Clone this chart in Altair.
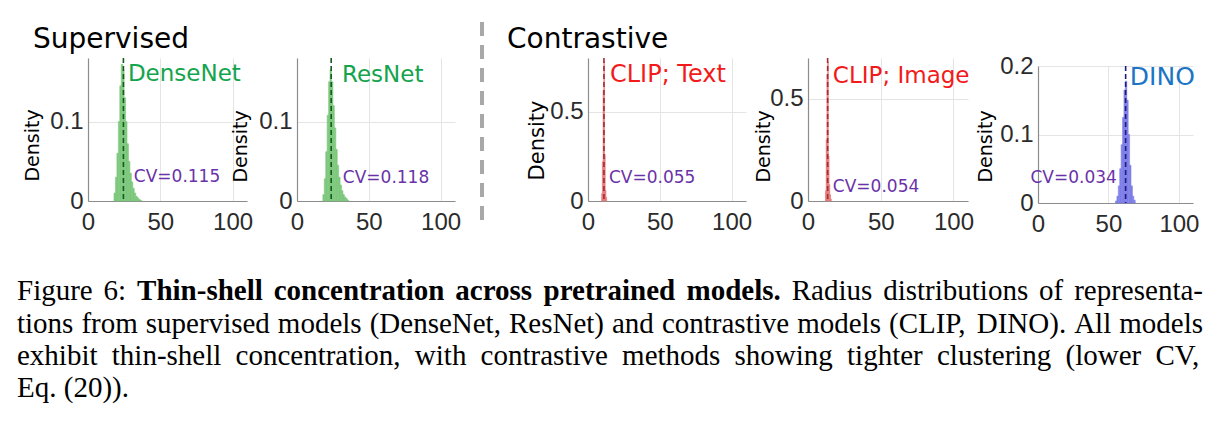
import altair as alt
import pandas as pd

# ---- data: radius histograms of each pretrained model ----
models = ["DenseNet", "ResNet", "CLIP; Text", "CLIP; Image", "DINO"]
cv_values = ["0.115", "0.118", "0.055", "0.054", "0.034"]
mean_radius = [24.5, 23.8, 11.1, 13.5, 62.2]
bin_width = [1.0, 1.0, 0.5, 0.5, 1.0]

densenet_bins = [18, 19, 20, 21, 22, 23, 24, 25, 26, 27, 28, 29, 30, 31, 32, 33, 34, 35, 36]
densenet_density = [0.010, 0.030, 0.060, 0.100, 0.145, 0.172, 0.165, 0.130, 0.100, 0.072,
                    0.050, 0.035, 0.024, 0.016, 0.010, 0.006, 0.004, 0.002, 0.001]

resnet_bins = [18, 19, 20, 21, 22, 23, 24, 25, 26, 27, 28, 29, 30, 31, 32, 33, 34, 35]
resnet_density = [0.008, 0.028, 0.062, 0.108, 0.150, 0.165, 0.150, 0.120, 0.092, 0.065,
                  0.045, 0.030, 0.020, 0.013, 0.008, 0.005, 0.003, 0.001]

clip_text_bins = [9.5, 10.0, 10.5, 11.0, 11.5, 12.0, 12.5]
clip_text_density = [0.04, 0.22, 0.62, 0.78, 0.26, 0.06, 0.02]

clip_image_bins = [12.0, 12.5, 13.0, 13.5, 14.0, 14.5, 15.0, 15.5]
clip_image_density = [0.05, 0.30, 0.62, 0.68, 0.22, 0.08, 0.03, 0.01]

dino_bins = [55, 56, 57, 58, 59, 60, 61, 62, 63, 64, 65, 66, 67, 68]
dino_density = [0.003, 0.010, 0.025, 0.050, 0.085, 0.125, 0.165, 0.178, 0.150, 0.100,
                0.055, 0.025, 0.010, 0.004]

all_bins = [densenet_bins, resnet_bins, clip_text_bins, clip_image_bins, dino_bins]
all_density = [densenet_density, resnet_density, clip_text_density, clip_image_density, dino_density]

# axis ranges and ticks
x_domain = [0, 110]
x_ticks = [0, 50, 100]
y_max = [0.18, 0.18, 0.8, 0.7, 0.2]
y_ticks = [[0, 0.1], [0, 0.1], [0, 0.5], [0, 0.5], [0, 0.1, 0.2]]

# label anchors in data units (radius)
name_x = [27.6, 31.3, 15.3, 17.1, 65.2]
cv_x = [31.7, 31.9, 14.6, 17.1, 56.0]

# caption: one entry per line, words tagged bold (1) or regular (0)
caption_line1 = [("Figure", 0), ("6:", 0), ("Thin-shell", 1), ("concentration", 1), ("across", 1),
                 ("pretrained", 1), ("models.", 1), ("Radius", 0), ("distributions", 0), ("of", 0),
                 ("representa-", 0)]
caption_line2 = [(w, 0) for w in "tions from supervised models (DenseNet, ResNet) and contrastive "
                 "models (CLIP, DINO). All models".split()]
caption_line3 = [(w, 0) for w in "exhibit thin-shell concentration, with contrastive methods "
                 "showing tighter clustering (lower CV,".split()]
caption_line4 = [(w, 0) for w in "Eq. (20)).".split()]
caption_lines = [caption_line1, caption_line2, caption_line3, caption_line4]
caption_justified = [True, True, True, False]

# ---- layout & style ----
panel_w = [159, 158, 158, 160, 155]
panel_h = [143, 143, 143, 143, 137]
gaps = [50, 133, 62, 70]
fill_color = ["#79c679", "#79c679", "#e57b7b", "#e57b7b", "#7b7be8"]
line_color = ["#145a1e", "#145a1e", "#a52a35", "#a52a35", "#1c1c80"]
name_color = ["#14a44d", "#14a44d", "#f21a1a", "#f21a1a", "#1b75c4"]
name_size = [23, 23, 24, 23, 25]
name_y = [16, 17, 17, 18, 11]
cv_y = [119, 120, 120, 129, 112]
cv_align = ["left", "left", "left", "left", "right"]
cv_color = "#6a32a8"
title_x = [-56, -57, -51, -45, -53]
title_y = [87, 88, 82, 88, 80]
title_size = [19, 19, 21, 19, 19]
hand_font = "DejaVu Sans"

# caption typesetting (Times metrics, per 1000 em), placed relative to the first plot
CAP_SIZE = 29
CAP_LEFT, CAP_RIGHT = -71, 1115
CAP_BASELINES = [242, 275, 307, 339]
ROMAN = {" ": 250, "(": 333, ")": 333, ",": 250, "-": 333, ".": 250, ":": 278, ";": 278,
         "0": 500, "2": 500, "6": 500,
         "A": 722, "C": 667, "D": 722, "E": 611, "F": 556, "I": 333, "L": 611, "N": 722,
         "O": 722, "P": 556, "R": 667, "T": 611, "V": 722,
         "a": 444, "b": 500, "c": 444, "d": 500, "e": 444, "f": 333, "g": 500, "h": 500,
         "i": 278, "j": 278, "k": 500, "l": 278, "m": 778, "n": 500, "o": 500, "p": 500,
         "q": 500, "r": 333, "s": 389, "t": 278, "u": 500, "v": 500, "w": 722, "x": 500,
         "y": 500, "z": 444}
BOLD = {" ": 250, "-": 333, ".": 250, "T": 667,
        "a": 500, "c": 444, "d": 556, "e": 444, "h": 556, "i": 278, "l": 278, "m": 833,
        "n": 556, "o": 500, "p": 556, "r": 444, "s": 389, "t": 333}


def word_width(word, bold):
    table = BOLD if bold else ROMAN
    return sum(table.get(c, 500) for c in word) * CAP_SIZE / 1000.0


def typeset_caption():
    rows = []
    for li, (line, just) in enumerate(zip(caption_lines, caption_justified)):
        widths = [word_width(w, b) for w, b in line]
        if just and len(line) > 1:
            gap = (CAP_RIGHT - CAP_LEFT - sum(widths)) / (len(line) - 1)
        else:
            gap = 250 * CAP_SIZE / 1000.0
        x = CAP_LEFT
        for (w, b), wd in zip(line, widths):
            rows.append({"word": w, "px": x, "py": CAP_BASELINES[li], "bold": b})
            x += wd + gap
    return pd.DataFrame(rows)


def one(df_dict):
    return pd.DataFrame(df_dict)


def caption_layers():
    words = typeset_caption()
    base = alt.Chart(words).encode(
        x=alt.X("px:Q", scale=None, axis=None),
        y=alt.Y("py:Q", scale=None, axis=None),
        text="word:N",
    )
    regular = base.transform_filter("datum.bold == 0").mark_text(
        align="left", baseline="alphabetic", font="Liberation Serif",
        fontSize=CAP_SIZE, color="black")
    bold = base.transform_filter("datum.bold == 1").mark_text(
        align="left", baseline="alphabetic", font="Liberation Serif",
        fontSize=CAP_SIZE, fontWeight="bold", color="black")
    return [regular, bold]


def panel(i):
    w = bin_width[i]
    df = pd.DataFrame({
        "x": all_bins[i],
        "x2": [b + w for b in all_bins[i]],
        "density": all_density[i],
    })
    xs = alt.Scale(domain=x_domain, nice=False, zero=False)
    ys = alt.Scale(domain=[0, y_max[i]], nice=False)

    bars = alt.Chart(df).mark_rect(
        color=fill_color[i], stroke=fill_color[i], strokeWidth=0.6, opacity=0.95
    ).encode(
        x=alt.X("x:Q", scale=xs, axis=alt.Axis(values=x_ticks, title=None, format=".1~f")),
        x2="x2:Q",
        y=alt.Y("density:Q", scale=ys, axis=alt.Axis(
            values=y_ticks[i], format=".1~f", title="Density",
            titleX=title_x[i], titleY=title_y[i], titleAngle=270,
            titleAlign="center", titleBaseline="middle", titleFontSize=title_size[i])),
        y2=alt.datum(0),
    )
    mean_rule = alt.Chart(one({"x": [mean_radius[i]]})).mark_rule(
        color=line_color[i], strokeDash=[5, 3], strokeWidth=1.6
    ).encode(x=alt.X("x:Q", title=None), y=alt.value(0), y2=alt.value(panel_h[i]))

    name = alt.Chart(one({"x": [name_x[i]], "t": [models[i]]})).mark_text(
        align="left", baseline="middle", font=hand_font, fontSize=name_size[i], color=name_color[i]
    ).encode(x=alt.X("x:Q", title=None), y=alt.value(name_y[i]), text="t:N")

    cv = alt.Chart(one({"x": [cv_x[i]], "t": ["CV=" + cv_values[i]]})).mark_text(
        align=cv_align[i], baseline="middle", font=hand_font, fontSize=17, color=cv_color
    ).encode(x=alt.X("x:Q", title=None), y=alt.value(cv_y[i]), text="t:N")

    layers = [bars, mean_rule, name, cv]

    if i == 0:
        # page frame, group heading and caption
        frame = alt.Chart(one({"v": [0]})).mark_rect(opacity=0).encode(
            x=alt.value(-88), x2=alt.value(1135), y=alt.value(-58), y2=alt.value(365))
        head = alt.Chart(one({"t": ["Supervised"]})).mark_text(
            align="left", baseline="middle", font=hand_font, fontSize=28, color="black"
        ).encode(x=alt.value(-55), y=alt.value(-18), text="t:N")
        layers = [frame] + layers + [head] + caption_layers()
    if i == 2:
        head = alt.Chart(one({"t": ["Contrastive"]})).mark_text(
            align="left", baseline="middle", font=hand_font, fontSize=28, color="black"
        ).encode(x=alt.value(-81), y=alt.value(-18), text="t:N")
        layers.append(head)

    return alt.layer(*layers).properties(width=panel_w[i], height=panel_h[i])


def spacer(w, h, divider=False):
    base = alt.Chart(one({"v": [0]})).mark_point(opacity=0).encode(
        x=alt.value(0), y=alt.value(0))
    if divider:
        rule = alt.Chart(one({"v": [0]})).mark_rule(
            color="#a8a8a8", strokeWidth=4, strokeDash=[14, 9]
        ).encode(x=alt.value(27), y=alt.value(-36), y2=alt.value(167))
        return alt.layer(base, rule).properties(width=w, height=h)
    return base.properties(width=w, height=h)


p5 = alt.vconcat(spacer(panel_w[4], 8), panel(4), spacing=0, bounds="flush")

chart = alt.hconcat(
    panel(0), spacer(gaps[0], 143),
    panel(1), spacer(gaps[1], 143, divider=True),
    panel(2), spacer(gaps[2], 143),
    panel(3), spacer(gaps[3], 143),
    p5,
    spacing=0, bounds="flush",
).properties(
    padding=0, background="white"
).configure_view(
    strokeWidth=0
).configure_axis(
    domainColor="#8c8c8c", domainWidth=1.2,
    gridColor="#e4e4e4", gridWidth=1,
    ticks=False, tickSize=0,
    labelFont="Liberation Sans", labelFontSize=24, labelColor="#2b2b2b",
    labelFlush=False,
    titleFont=hand_font, titleFontWeight="normal", titleColor="black",
).configure_axisX(
    labelPadding=9
).configure_axisY(
    labelPadding=5
)

chart.save("out.html", embed_options={"renderer": "svg", "actions": False})
